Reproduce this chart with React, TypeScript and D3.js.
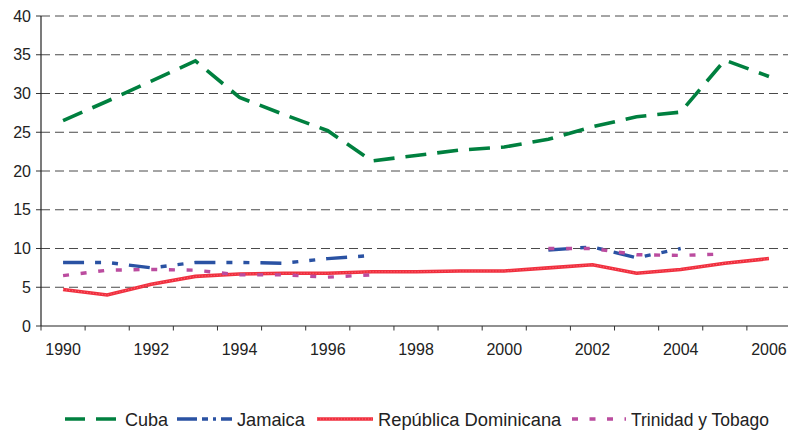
import React from "react";
import * as d3 from "d3";

const years = [1990,1991,1992,1993,1994,1995,1996,1997,1998,1999,2000,2001,2002,2003,2004,2005,2006];
const cuba = [26.5,29.0,31.6,34.2,29.5,27.3,25.2,21.3,22.0,22.7,23.1,24.1,25.7,27.0,27.6,34.3,32.2];
const jamaica = [8.2,8.2,7.5,8.2,8.2,8.1,8.7,9.1,null,null,null,9.8,10.2,8.8,10.0,null,null];
const domRep = [4.7,4.0,5.4,6.4,6.7,6.8,6.8,7.0,7.0,7.1,7.1,7.5,7.9,6.8,7.3,8.1,8.7];
const trinidad = [6.5,7.2,7.3,7.2,6.6,6.6,6.3,6.6,null,null,null,10.0,10.0,9.2,9.1,9.3,null];
const yTicks = [0,5,10,15,20,25,30,35,40];
const xLabels = [1990,1992,1994,1996,1998,2000,2002,2004,2006];

const seriesNames = ["Cuba","Jamaica","República Dominicana","Trinidad y Tobago"];

const W = 788, H = 430;
const left = 41, right = 791, top = 16, bottom = 326;
const font = "Arial, 'Liberation Sans', Helvetica, sans-serif";

export default function App() {
  const x = d3.scaleBand<number>().domain(years).range([left, right]).padding(0);
  const cx = (yr: number) => (x(yr) as number) + x.bandwidth() / 2;
  const y = d3.scaleLinear().domain([0, 40]).range([bottom, top]);

  const mk = (vals: (number | null)[]) =>
    d3.line<number | null>()
      .defined((d) => d !== null)
      .x((_, i) => cx(years[i]))
      .y((d) => y(d as number))(vals) as string;

  const series = [
    { name: seriesNames[0], vals: cuba, color: "#00803f", width: 3.6, dash: "21,11" },
    { name: seriesNames[1], vals: jamaica, color: "#2a52a3", width: 3.4, dash: "21,11,6,11,6,11" },
    { name: seriesNames[2], vals: domRep, color: "#f0303f", width: 3.6, dash: "" },
    { name: seriesNames[3], vals: trinidad, color: "#bb4c9f", width: 3.4, dash: "6,11.7" },
  ];

  const legend = [
    { x1: 65, x2: 119, tx: 125, sx: 0.95 },
    { x1: 177, x2: 232, tx: 237, sx: 0.96 },
    { x1: 317, x2: 373, tx: 378, sx: 0.965 },
    { x1: 572, x2: 626, tx: 631, sx: 0.92 },
  ];
  const legendDash = ["20,11", "20,5,6,5,3,5", "", "6,11.5"];

  const boundaries = years.map((yr) => x(yr) as number).concat([right]);

  return (
    <svg width={W} height={H} style={{ position: "absolute", left: 0, top: 0, background: "#fff" }}
      fontFamily={font}>
      {yTicks.map((t) => (
        <g key={"g" + t}>
          <line x1={36} x2={left} y1={y(t)} y2={y(t)} stroke="#333" strokeWidth={1} />
          {t > 0 && (
            <line x1={left} x2={W} y1={y(t)} y2={y(t)} stroke="#4a4a4a" strokeWidth={1} strokeDasharray="9,5" />
          )}
          <text x={31} y={y(t) + 5.5} textAnchor="end" fontSize={16} fill="#222">{t}</text>
        </g>
      ))}
      <line x1={left} x2={left} y1={top} y2={bottom} stroke="#222" strokeWidth={1.2} />
      <line x1={left} x2={W} y1={bottom} y2={bottom} stroke="#222" strokeWidth={1.2} />
      {boundaries.map((b, i) => (
        <line key={"t" + i} x1={b} x2={b} y1={bottom} y2={bottom + 4.5} stroke="#333" strokeWidth={1} />
      ))}
      {xLabels.map((yr) => (
        <text key={"x" + yr} x={cx(yr)} y={355} textAnchor="middle" fontSize={16} fill="#222">{yr}</text>
      ))}
      {series.map((s, i) => (
        <g key={s.name}>
          <path d={mk(s.vals)} fill="none" stroke={s.color} strokeWidth={s.width}
            strokeDasharray={s.dash || undefined} strokeLinejoin="miter" />
          {i === 2 && (
            <path d={mk(s.vals)} fill="none" stroke="#ff8a96" strokeWidth={1}
              strokeDasharray="1,2" opacity={0.7} />
          )}
        </g>
      ))}
      {series.map((s, i) => (
        <g key={"l" + s.name}>
          <line x1={legend[i].x1} x2={legend[i].x2} y1={419} y2={419} stroke={s.color}
            strokeWidth={s.width} strokeDasharray={legendDash[i] || undefined} />
          {i === 2 && (
            <line x1={legend[i].x1} x2={legend[i].x2} y1={419} y2={419} stroke="#ff8a96"
              strokeWidth={1} strokeDasharray="1,2" opacity={0.7} />
          )}
          <text transform={`translate(${legend[i].tx},426) scale(${legend[i].sx},1)`}
            fontSize={19} fill="#222">{s.name}</text>
        </g>
      ))}
    </svg>
  );
}
